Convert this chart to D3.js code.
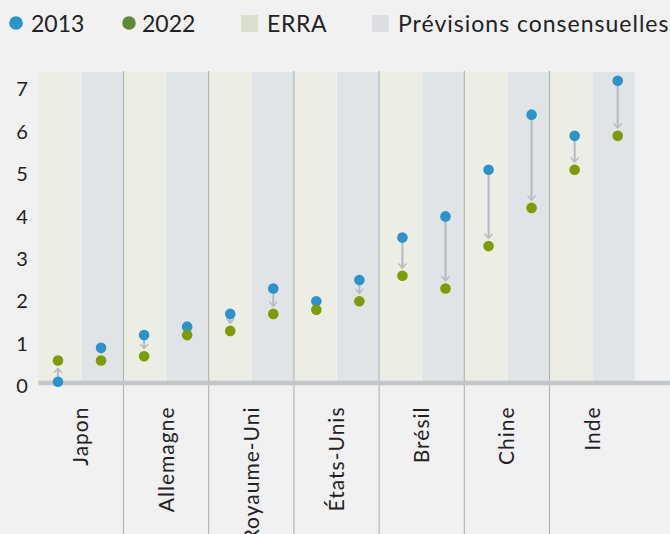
<!DOCTYPE html>
<html>
<head>
<meta charset="utf-8">
<script src="https://cdn.jsdelivr.net/npm/d3@7"></script>
<style>
  html, body { margin: 0; padding: 0; background: #f1f1f1; }
  svg { display: block; font-family: Lato, "Noto Sans", sans-serif; }
</style>
</head>
<body>
<svg id="chart" width="670" height="534"></svg>
<script>
// Countries and growth values (%) for the two estimates, 2013 vs 2022
const countries = ["Japon", "Allemagne", "Royaume-Uni", "États-Unis", "Brésil", "Chine", "Inde"];
const erra2013 = [0.1, 1.2, 1.7, 2.0, 3.5, 5.1, 5.9];
const erra2022 = [0.6, 0.7, 1.3, 1.8, 2.6, 3.3, 5.1];
const cons2013 = [0.9, 1.4, 2.3, 2.5, 4.0, 6.4, 7.2];
const cons2022 = [0.6, 1.2, 1.7, 2.0, 2.3, 4.2, 5.9];
const yTicks = [0, 1, 2, 3, 4, 5, 6, 7];
const methods = ["ERRA", "Prévisions consensuelles"];
const years = ["2013", "2022"];

const colors = {
  bg: "#f1f1f1",
  erraStripe: "#ecede4",
  consStripe: "#e1e4e7",
  erraKey: "#d9e1cd",
  consKey: "#dcdee2",
  y2013: "#2a93c9",
  y2022: "#7b9d00",
  y2022Key: "#5d8a33",
  arrow: "#b3bac2",
  sep: "#a9aeb3",
  base: "#c3c6c8",
  text: "#222"
};

const svg = d3.select("#chart");
svg.append("rect").attr("width", 670).attr("height", 534).attr("fill", colors.bg);

const plotTop = 72, baseY = 383;

const y = d3.scaleLinear().domain([0, 7]).range([386, 89.2]);
const xGroup = d3.scaleBand().domain(countries).range([38.3, 634.7]).padding(0);
const slots = countries.flatMap(c => methods.map(m => c + "|" + m));
const xDot = d3.scalePoint().domain(slots).range([58, 617.7]);

const bw = xGroup.bandwidth();

// Background stripes: one per method within each country
const g = svg.append("g");
countries.forEach(c => {
  g.append("rect")
    .attr("x", xGroup(c)).attr("y", plotTop)
    .attr("width", bw / 2 - 0.5).attr("height", baseY - plotTop)
    .attr("fill", colors.erraStripe);
  g.append("rect")
    .attr("x", xGroup(c) + bw / 2 + 0.5).attr("y", plotTop)
    .attr("width", bw / 2 - 0.5).attr("height", baseY - plotTop)
    .attr("fill", colors.consStripe);
});

// Separators between countries
countries.slice(1).forEach(c => {
  g.append("line")
    .attr("x1", xGroup(c)).attr("x2", xGroup(c))
    .attr("y1", plotTop - 1).attr("y2", 534)
    .attr("stroke", colors.sep).attr("stroke-width", 1);
});

// Zero baseline
g.append("rect")
  .attr("x", 38.3).attr("y", baseY - 2.3)
  .attr("width", 670 - 38.3).attr("height", 4.6)
  .attr("fill", colors.base);

// Y tick labels
svg.append("g").selectAll("text").data(yTicks).join("text")
  .attr("x", 22).attr("y", d => y(d))
  .attr("dy", "0.36em")
  .attr("text-anchor", "middle")
  .attr("font-size", 20)
  .attr("fill", colors.text)
  .text(d => d);

// Country labels, rotated
svg.append("g").selectAll("text").data(countries).join("text")
  .attr("transform", c => `translate(${xGroup(c) + bw / 2},406.5) rotate(-90)`)
  .attr("dy", "0.36em")
  .attr("text-anchor", "end")
  .attr("font-size", 21)
  .attr("letter-spacing", 1)
  .attr("fill", colors.text)
  .text(c => c);

// Points: one record per country and method
const pts = [];
countries.forEach((c, i) => {
  pts.push({ key: c + "|ERRA", a: erra2013[i], b: erra2022[i] });
  pts.push({ key: c + "|Prévisions consensuelles", a: cons2013[i], b: cons2022[i] });
});

const r = 5.3;
const arrows = svg.append("g")
  .attr("stroke", colors.arrow).attr("stroke-width", 2)
  .attr("fill", "none").attr("stroke-linecap", "butt");
pts.forEach(p => {
  const x = xDot(p.key);
  const ya = y(p.a), yb = y(p.b);
  const dir = Math.sign(yb - ya);
  if (Math.abs(yb - ya) < 12) return;
  const tip = yb - dir * (r + 2.5);
  arrows.append("line").attr("x1", x).attr("x2", x).attr("y1", ya).attr("y2", tip - dir * 0.5);
  arrows.append("path")
    .attr("stroke-width", 1.4)
    .attr("d", `M${x - 4},${tip - dir * 4.5}L${x},${tip}L${x + 4},${tip - dir * 4.5}`);
});

svg.append("g").selectAll("circle").data(pts).join("circle")
  .attr("cx", d => xDot(d.key)).attr("cy", d => y(d.a)).attr("r", r)
  .attr("fill", colors.y2013);
svg.append("g").selectAll("circle").data(pts).join("circle")
  .attr("cx", d => xDot(d.key)).attr("cy", d => y(d.b)).attr("r", r)
  .attr("fill", colors.y2022);

// Legend
const legend = svg.append("g").attr("font-size", 23).attr("fill", colors.text);
const legItems = [
  { type: "dot", color: colors.y2013, label: years[0], x: 16, tx: 31, ls: 0 },
  { type: "dot", color: colors.y2022Key, label: years[1], x: 129, tx: 142, ls: 0 },
  { type: "sq", color: colors.erraKey, label: methods[0], x: 241, tx: 267, ls: 0.6 },
  { type: "sq", color: colors.consKey, label: methods[1], x: 372, tx: 398, ls: 1 }
];
legItems.forEach(d => {
  if (d.type === "dot") {
    legend.append("circle").attr("cx", d.x).attr("cy", 23).attr("r", 6.8).attr("fill", d.color);
  } else {
    legend.append("rect").attr("x", d.x).attr("y", 15).attr("width", 17).attr("height", 17).attr("fill", d.color);
  }
  legend.append("text").attr("x", d.tx).attr("y", 32.3).attr("letter-spacing", d.ls).text(d.label);
});
</script>
</body>
</html>
